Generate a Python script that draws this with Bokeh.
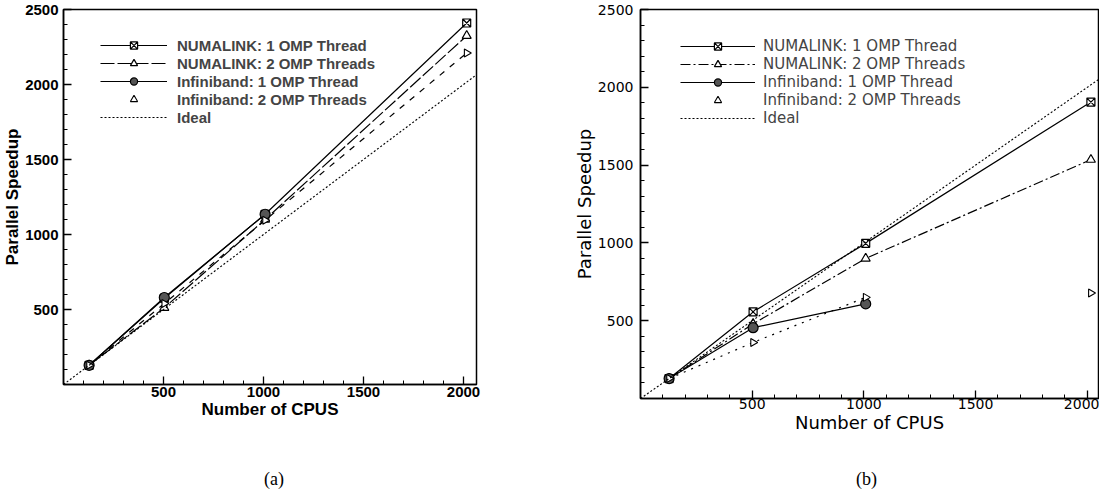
import math
from bokeh.plotting import figure
from bokeh.models import FixedTicker, Range1d, Legend, LegendItem, Div
from bokeh.layouts import row, column
from bokeh.embed import file_html
from bokeh.resources import INLINE

# ---------------- data ----------------
cpus = [128, 504, 1008, 2016]
ideal_cpus = [0, 2100]
ideal_speedup = [0, 2100]

# (a)
a_numa1 = [128, 575, 1135, 2410]
a_numa2 = [128, 512, 1100, 2325]
a_ib1 = [128, 580, 1135]
a_ib2 = [128, 540, 1095, 2210]

# (b)
b_numa1 = [128, 557, 997, 1905]
b_numa2 = [128, 480, 900, 1535]
b_ib1 = [128, 455, 608]
b_ib2 = [128, 360, 650, 678]

labels = ["NUMALINK: 1 OMP Thread", "NUMALINK: 2 OMP Threads",
          "Infiniband: 1 OMP Thread", "Infiniband: 2 OMP Threads", "Ideal"]
major_x = [500, 1000, 1500, 2000]
major_y = [500, 1000, 1500, 2000, 2500]
minor_x = list(range(100, 2100, 100))
minor_y = list(range(100, 2600, 100))
captions = ["(a)", "(b)"]


def make_fig(fw, fh, left, right, top, bottom, xmax, font, bold,
             tick_size, label_size, tick_standoff_x, tick_standoff_y,
             lab_standoff_x, lab_standoff_y):
    p = figure(frame_width=fw, frame_height=fh, output_backend="svg",
               toolbar_location=None,
               x_range=Range1d(0, xmax), y_range=Range1d(0, 2500),
               min_border_left=left, min_border_right=right,
               min_border_top=top, min_border_bottom=bottom)
    p.grid.visible = False
    p.outline_line_color = "black"
    p.outline_line_width = 1.5
    p.outline_line_alpha = 1
    p.background_fill_color = "white"
    p.border_fill_color = "white"
    p.xaxis.ticker = FixedTicker(ticks=major_x, minor_ticks=minor_x)
    p.yaxis.ticker = FixedTicker(ticks=major_y, minor_ticks=minor_y)
    p.xaxis.axis_label = "Number of CPUS"
    p.yaxis.axis_label = "Parallel Speedup"
    style = "bold" if bold else "normal"
    for ax in (p.xaxis[0], p.yaxis[0]):
        ax.axis_line_color = "black"
        ax.axis_line_width = 1.5
        ax.major_tick_in = 8
        ax.major_tick_out = 0
        ax.minor_tick_in = 4
        ax.minor_tick_out = 0
        ax.major_tick_line_color = "black"
        ax.major_tick_line_width = 1.3
        ax.minor_tick_line_color = "black"
        ax.major_label_text_font = font
        ax.major_label_text_font_size = tick_size
        ax.major_label_text_font_style = style
        ax.major_label_text_color = "black"
        ax.axis_label_text_font = font
        ax.axis_label_text_font_size = label_size
        ax.axis_label_text_font_style = style
        ax.axis_label_text_color = "black"
    p.xaxis.major_label_standoff = tick_standoff_x
    p.yaxis.major_label_standoff = tick_standoff_y
    p.xaxis.axis_label_standoff = lab_standoff_x
    p.yaxis.axis_label_standoff = lab_standoff_y
    return p


def add_series(p, numa1, numa2, ib1, ib2, dashes, ib2_line_n):
    lw = 1.2
    l1 = p.line(cpus, numa1, line_color="black", line_width=lw, line_dash=dashes[0])
    s1 = p.scatter(cpus, numa1, marker="square_x", size=8, line_color="black",
                   fill_color="white", line_width=1.2)
    l2 = p.line(cpus, numa2, line_color="black", line_width=lw, line_dash=dashes[1])
    s2 = p.scatter(cpus, numa2, marker="triangle", size=9, line_color="black",
                   fill_color="white", line_width=1.2)
    l3 = p.line(cpus[:len(ib1)], ib1, line_color="black", line_width=lw, line_dash=dashes[2])
    s3 = p.scatter(cpus[:len(ib1)], ib1, marker="circle", size=10, line_color="black",
                   fill_color="#555555", line_width=1.2)
    l4 = p.line(cpus[:ib2_line_n], ib2[:ib2_line_n], line_color="black",
                line_width=lw, line_dash=dashes[3])
    s4 = p.scatter(cpus, ib2, marker="triangle", angle=[-math.pi / 2] * len(cpus),
                   size=8, line_color="black", fill_color="white", line_width=1.1)
    l5 = p.line(ideal_cpus, ideal_speedup, line_color="black", line_width=1.1,
                line_dash=dashes[4])
    return [([l1, s1], None), ([l2, s2], None), ([l3, s3], None), ([s4], 0), ([l5], None)]


def add_legend(p, rends, x, y, glyph_w, standoff, font, bold, size):
    items = []
    for lab, (r, idx) in zip(labels, rends):
        if idx is None:
            items.append(LegendItem(label=lab, renderers=r))
        else:
            items.append(LegendItem(label=lab, renderers=r, index=idx))
    leg = Legend(items=items, location=(x, y), padding=0, margin=0, spacing=0,
                 label_height=18, glyph_height=18, glyph_width=glyph_w,
                 label_standoff=standoff, background_fill_alpha=0,
                 border_line_alpha=0, label_text_font=font,
                 label_text_font_size=size,
                 label_text_font_style="bold" if bold else "normal")
    p.add_layout(leg, "center")


# ---------------- (a) ----------------
pa = make_fig(413, 375, 60, 79, 9, 46, 2065, "Liberation Sans", True,
              "15px", "17px", 2, 5, 0, 0)
ra = add_series(pa, a_numa1, a_numa2, a_ib1, a_ib2,
                ["solid", "14 3", "solid", "6 7", "2 2"], 4)
add_legend(pa, ra, 37, 258, 67, 10, "Liberation Sans", True, "15px")

# ---------------- (b) ----------------
pb = make_fig(458, 389, 85, 1, 9, 46, 2050, "DejaVu Sans", False,
              "14px", "18px", 0, 7, 0, 0)
rb = add_series(pb, b_numa1, b_numa2, b_ib1, b_ib2,
                ["solid", "10 3 2 3", "solid", "2 6", "2 2"], 3)
add_legend(pb, rb, 40, 271, 75, 8, "DejaVu Sans", False, "15px")

cap_style = "font-family:'Liberation Serif';font-size:18px;line-height:22px;color:black;"
da = Div(text=f'<div style="{cap_style}padding-top:19px;padding-left:259px;">{captions[0]}</div>',
         width=552, height=40)
db = Div(text=f'<div style="{cap_style}padding-top:19px;padding-left:289px;">{captions[1]}</div>',
         width=544, height=40)

layout = column(row(pa, pb), row(da, db))
open("out.html", "w").write(file_html(layout, INLINE))
